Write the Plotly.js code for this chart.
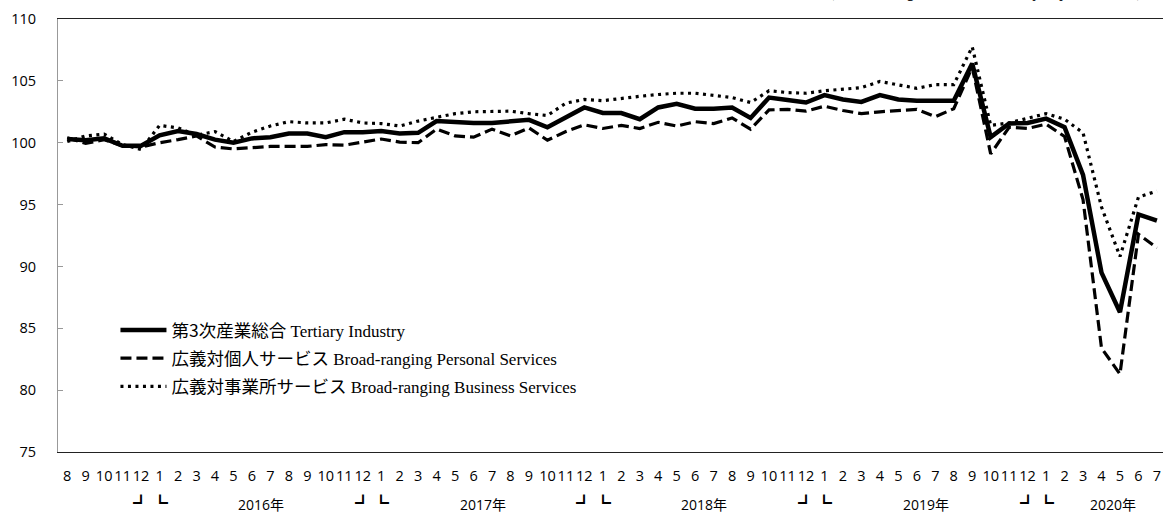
<!DOCTYPE html>
<html>
<head>
<meta charset="utf-8">
<script src="https://cdn.plot.ly/plotly-3.0.1.min.js"></script>
<style>html,body{margin:0;padding:0;background:#fff;overflow:hidden}</style>
</head>
<body>
<div id="chart" style="width:1163px;height:515px"></div>
<script>
const periods = [
 '2015-08','2015-09','2015-10','2015-11','2015-12',
 '2016-01','2016-02','2016-03','2016-04','2016-05','2016-06','2016-07','2016-08','2016-09','2016-10','2016-11','2016-12',
 '2017-01','2017-02','2017-03','2017-04','2017-05','2017-06','2017-07','2017-08','2017-09','2017-10','2017-11','2017-12',
 '2018-01','2018-02','2018-03','2018-04','2018-05','2018-06','2018-07','2018-08','2018-09','2018-10','2018-11','2018-12',
 '2019-01','2019-02','2019-03','2019-04','2019-05','2019-06','2019-07','2019-08','2019-09','2019-10','2019-11','2019-12',
 '2020-01','2020-02','2020-03','2020-04','2020-05','2020-06','2020-07'
];
const monthLabels = [
 '8','9','10','11','12',
 '1','2','3','4','5','6','7','8','9','10','11','12',
 '1','2','3','4','5','6','7','8','9','10','11','12',
 '1','2','3','4','5','6','7','8','9','10','11','12',
 '1','2','3','4','5','6','7','8','9','10','11','12',
 '1','2','3','4','5','6','7'
];
const tertiary = [
 100.3,100.2,100.35,99.75,99.75,100.6,100.95,100.7,100.25,100.0,
 100.35,100.45,100.75,100.75,100.45,100.85,100.85,100.95,100.75,100.8,
 101.75,101.65,101.6,101.6,101.7,101.85,101.25,102.05,102.85,102.4,
 102.4,101.9,102.85,103.15,102.75,102.75,102.85,102.0,103.65,103.45,
 103.25,103.85,103.5,103.3,103.85,103.5,103.4,103.4,103.4,106.4,
 100.45,101.55,101.6,101.95,101.25,97.4,89.5,86.3,94.2,93.7
];
const personal = [
 100.4,99.95,100.25,99.75,99.65,100.0,100.25,100.55,99.65,99.5,
 99.6,99.7,99.7,99.7,99.85,99.8,100.05,100.3,100.05,100.0,
 101.1,100.55,100.45,101.1,100.55,101.2,100.2,100.9,101.45,101.15,
 101.4,101.15,101.65,101.35,101.7,101.55,102.0,101.1,102.65,102.7,
 102.55,102.95,102.6,102.35,102.5,102.6,102.7,102.1,102.75,106.1,
 99.1,101.25,101.15,101.5,100.5,95.4,83.4,81.3,92.6,91.5
];
const business = [
 100.1,100.55,100.7,99.85,99.45,101.4,101.2,100.6,100.9,100.1,
 100.85,101.35,101.7,101.6,101.6,101.9,101.6,101.55,101.35,101.75,
 102.05,102.35,102.5,102.5,102.55,102.35,102.2,103.2,103.5,103.4,
 103.6,103.75,103.9,104.0,104.0,103.8,103.65,103.25,104.2,104.05,
 104.0,104.2,104.3,104.45,104.95,104.7,104.4,104.7,104.7,107.75,
 101.4,101.6,102.0,102.35,101.9,100.8,94.8,90.8,95.6,96.1
];
const seriesNames = [
 '第3次産業総合', 'Tertiary Industry',
 '広義対個人サービス', 'Broad-ranging Personal Services',
 '広義対事業所サービス', 'Broad-ranging Business Services'
];
const yearLabels = ['2016年','2017年','2018年','2019年','2020年'];
const yearCenters = [10.5, 22.5, 34.5, 46.5, 56.6];
const yearBreaks = [4, 16, 28, 40, 52]; // index of December before each year
const note = '(2015 average = 100, seasonally adjusted index)';

const cjk = "'Noto Sans CJK JP'";
function lgName(jp, en) {
  return '<span style="font-family:' + cjk + ';font-size:17.5px">' + jp + '</span> ' + en;
}

const traces = [
  {x: periods, y: business, type: 'scatter', mode: 'lines', name: lgName(seriesNames[4], seriesNames[5]),
   line: {color: '#000', width: 3.2, dash: '3px,4.5px'}, legendrank: 3, legendgroup: 'c'},
  {x: periods, y: personal, type: 'scatter', mode: 'lines', name: lgName(seriesNames[2], seriesNames[3]),
   line: {color: '#000', width: 3.2, dash: '11px,5px'}, legendrank: 2, legendgroup: 'b'},
  {x: periods, y: tertiary, type: 'scatter', mode: 'lines', name: lgName(seriesNames[0], seriesNames[1]),
   line: {color: '#000', width: 4.5}, legendrank: 1, legendgroup: 'a'}
];

const tickFont = {family: "'Open Sans', " + cjk + ", sans-serif", size: 14.5, color: '#000'};
const annotations = [];
yearLabels.forEach((t, i) => {
  annotations.push({x: yearCenters[i], xref: 'x', y: -0.121, yref: 'paper', text: t,
    showarrow: false, font: {family: "'Open Sans', " + cjk + ", sans-serif", size: 14, color: '#000'},
    xanchor: 'center', yanchor: 'middle'});
});
yearBreaks.forEach(b => {
  annotations.push({x: b, xref: 'x', y: -0.115, yref: 'paper', text: '┛',
    showarrow: false, font: {family: cjk, size: 16, color: '#000'}, xanchor: 'center', yanchor: 'middle'});
  annotations.push({x: b + 1, xref: 'x', y: -0.115, yref: 'paper', text: '┗',
    showarrow: false, font: {family: cjk, size: 16, color: '#000'}, xanchor: 'center', yanchor: 'middle'});
});
annotations.push({x: 1.0, xref: 'paper', xanchor: 'right', xshift: -18, y: 1.036, yref: 'paper', yanchor: 'bottom',
  text: '<i>' + note + '</i>', showarrow: false,
  font: {family: "'Liberation Serif', serif", size: 16, color: '#000'}});

const layout = {
  width: 1163, height: 515, autosize: false,
  margin: {l: 58, r: 0, t: 19, b: 63, pad: 0},
  paper_bgcolor: '#fff', plot_bgcolor: '#fff',
  showlegend: true,
  legend: {x: 0.052, y: 0.322, xanchor: 'left', yanchor: 'top', bgcolor: 'rgba(0,0,0,0)',
    font: {family: "'Liberation Serif', " + cjk + ", serif", size: 17, color: '#000'},
    itemwidth: 46, tracegroupgap: 3, traceorder: 'grouped'},
  xaxis: {type: 'category', range: [-0.5, 59.33], tickmode: 'array', tickvals: periods, ticktext: monthLabels,
    tickangle: 0,
    showgrid: false, zeroline: false, showline: true, linecolor: '#222', linewidth: 1, mirror: true,
    ticks: '', tickfont: tickFont, ticklabelstandoff: 11, fixedrange: true},
  yaxis: {range: [75, 110], dtick: 5, tick0: 75, showgrid: false, zeroline: false,
    showline: true, linecolor: '#999', linewidth: 1, ticks: 'inside', ticklen: 5, tickcolor: '#999',
    tickfont: tickFont, ticklabelstandoff: 18, fixedrange: true},
  annotations: annotations
};

Plotly.newPlot('chart', traces, layout, {staticPlot: true, displayModeBar: false});
</script>
</body>
</html>
